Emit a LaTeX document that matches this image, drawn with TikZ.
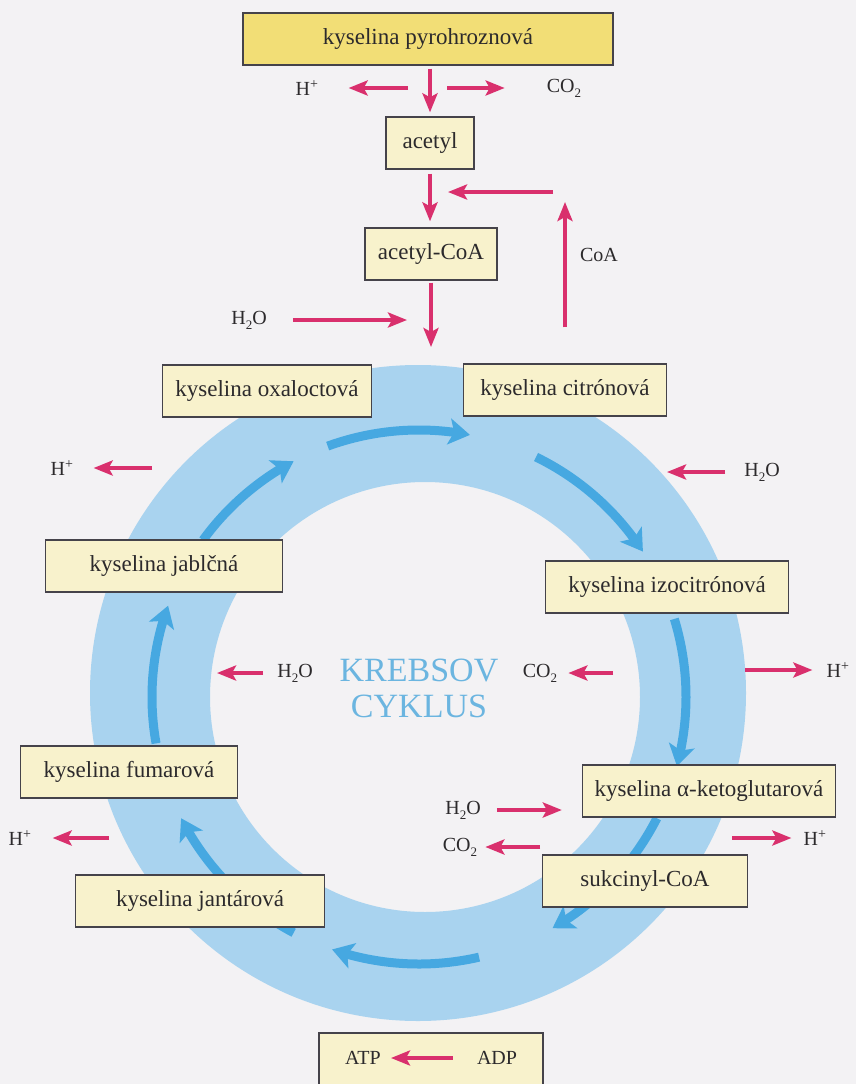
\documentclass[tikz,border=0pt]{standalone}
\usepackage{fontspec}
\setmainfont{Liberation Serif}
\usetikzlibrary{arrows.meta,bending,positioning}

\definecolor{paper}{HTML}{F3F2F4}
\definecolor{ringblue}{HTML}{A9D3EF}
\definecolor{arcblue}{HTML}{46A8E1}
\definecolor{titleblue}{HTML}{6BB5E0}
\definecolor{boxfill}{HTML}{F8F2CC}
\definecolor{topfill}{HTML}{F2DE76}
\definecolor{boxline}{HTML}{45434A}
\definecolor{ink}{HTML}{2C2A2C}
\definecolor{arrowred}{HTML}{D9306D}

% low-set index digit, as in CO2 and H2O
\newcommand\lowidx[1]{\raisebox{-.55ex}{\fontsize{13}{13}\selectfont #1}}

\begin{document}
\begin{tikzpicture}[
  x=1pt, y=-1pt,
  cell/.style={draw=boxline, line width=1.3pt, fill=boxfill, minimum height=52pt,
    inner sep=0pt, text=ink, font=\fontsize{23}{26}\selectfont},
  lab/.style={inner sep=0pt, text=ink, font=\fontsize{20}{24}\selectfont},
  rarrow/.style={draw=arrowred, line width=4.2pt, -{Stealth[length=19pt,width=15pt,inset=4pt]}},
  cyclearrow/.style={draw=arcblue, line width=9pt, -{Stealth[length=21pt,width=26pt,inset=5pt]}}
]
  \useasboundingbox (0,0) rectangle (856,1084);
  \clip (0,0) rectangle (856,1084);
  \fill[paper] (0,0) rectangle (856,1084);

  % the cycle ring and its arrows
  \fill[ringblue, even odd rule] (418,693) circle[radius=328] (425,697) circle[radius=215];
  \coordinate (ctr) at (419,697);
  \foreach \a/\b in {-110/-79, -64/-33, -17/15, 27/60, 77/109, 118/153, 170/200, 216/242}
    \draw[cyclearrow] (ctr) ++(\a:267) arc[start angle=\a, end angle=\b, radius=267];

  \node[font=\fontsize{34}{36}\selectfont, text=titleblue, align=center] (title) at (419,688) {KREBSOV\\CYKLUS};

  % entry: pyruvate -> acetyl-CoA
  \node[cell, fill=topfill, minimum width=370pt] (pyro) at (428,39) {kyselina pyrohroznová};
  \node[cell, minimum width=88pt] (acetyl) at (430,143) {acetyl};
  \node[cell, minimum width=132pt] (acoa) at (431,254) {acetyl-CoA};
  \coordinate (entry) at (431,347);

  \draw[rarrow, shorten <=3pt, shorten >=4pt] (pyro.south -| acetyl) -- (acetyl.north);
  \draw[rarrow, shorten <=4pt, shorten >=6pt] (acetyl.south) -- (acetyl.south |- acoa.north);
  \draw[rarrow, shorten <=2pt] (acoa.south) -- (entry);

  \node[lab] (hA) at (307,88) {H\textsuperscript{+}};
  \node[lab] (cA) at (564,88) {CO\lowidx{2}};
  \coordinate (sA) at (408,88);
  \coordinate (sB) at (447,88);
  \draw[rarrow, shorten >=30pt] (sA) -- (hA);
  \draw[rarrow, shorten >=42pt] (sB) -- (cA);

  \node[lab] (coa) at (599,255) {CoA};
  \coordinate (coaup) at (565,202);
  \coordinate (coaback) at (553,192);
  \coordinate (coain) at (448,192);

  \node[lab] (wA) at (249,320) {H\lowidx{2}O};
  \coordinate (wAh) at (407,320);
  \draw[rarrow, shorten <=26pt] (wA) -- (wAh);

  % the cycle intermediates
  \node[cell, minimum width=209pt] (oxal) at (267,391) {kyselina oxaloctová};
  \node[cell, minimum width=203pt] (citr) at (565,390) {kyselina citrónová};
  \node[cell, minimum width=237pt] (jabl) at (164,566) {kyselina jablčná};
  \node[cell, minimum width=243pt] (izoc) at (667,587) {kyselina izocitrónová};
  \node[cell, minimum width=217pt] (fuma) at (129,772) {kyselina fumarová};
  \node[cell, minimum width=253pt] (keto) at (709,791) {kyselina α-ketoglutarová};
  \node[cell, minimum width=205pt] (sukc) at (645,881) {sukcinyl-CoA};
  \node[cell, minimum width=249pt] (jant) at (200,901) {kyselina jantárová};

  \draw[rarrow, shorten <=36pt] (citr.north) -- (coaup);
  \draw[rarrow] (coaback) -- (coain);

  % side products around the ring
  \node[lab] (hB) at (62,468) {H\textsuperscript{+}};
  \coordinate (sC) at (152,468);
  \draw[rarrow, shorten >=20pt] (sC) -- (hB);

  \node[lab] (wB) at (762,472) {H\lowidx{2}O};
  \coordinate (sD) at (667,472);
  \draw[rarrow, shorten <=19pt] (wB) -- (sD);

  \node[lab] (wC) at (295,673) {H\lowidx{2}O};
  \coordinate (sE) at (217,673);
  \draw[rarrow, shorten <=14pt] (wC) -- (sE);

  \node[lab] (cB) at (540,673) {CO\lowidx{2}};
  \coordinate (sF) at (613,673);
  \draw[rarrow, shorten >=11pt] (sF) -- (cB);

  \node[lab] (hC) at (838,670) {H\textsuperscript{+}};
  \coordinate (sG) at (745,670);
  \draw[rarrow, shorten >=14pt] (sG) -- (hC);

  \node[lab] (wD) at (463,810) {H\lowidx{2}O};
  \draw[rarrow, shorten <=16pt, shorten >=20pt] (wD) -- (wD -| keto.west);

  \node[lab] (cC) at (460,847) {CO\lowidx{2}};
  \coordinate (sH) at (540,847);
  \draw[rarrow, shorten >=8pt] (sH) -- (cC);

  \node[lab] (hD) at (815,838) {H\textsuperscript{+}};
  \coordinate (sI) at (732,838);
  \draw[rarrow, shorten >=12pt] (sI) -- (hD);

  \node[lab] (hE) at (20,838) {H\textsuperscript{+}};
  \coordinate (sJ) at (109,838);
  \draw[rarrow, shorten >=21pt] (sJ) -- (hE);

  % energy box at the bottom edge
  \node[cell, minimum width=224pt, minimum height=90pt] (energy) at (431,1078) {};
  \node[lab] (atp) at (363,1058) {ATP};
  \node[lab] (adp) at (497,1058) {ADP};
  \draw[rarrow, shorten <=24pt, shorten >=10pt] (adp) -- (atp);
\end{tikzpicture}
\end{document}
